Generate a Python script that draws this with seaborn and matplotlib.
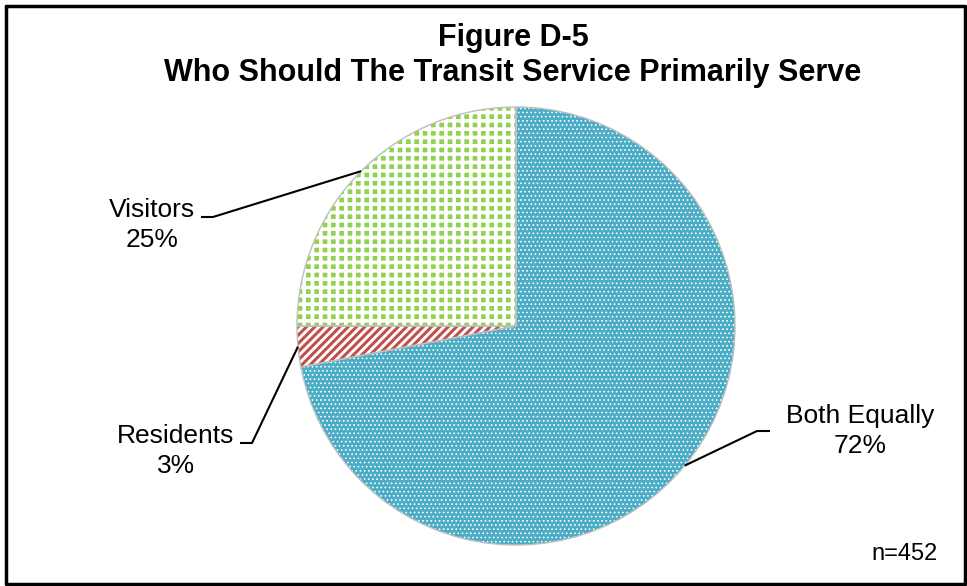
import numpy as np
import matplotlib
matplotlib.use("Agg")
import matplotlib.pyplot as plt
import seaborn as sns

# data
categories = ["Both Equally", "Residents", "Visitors"]
shares = [72, 3, 25]
colors = ["#4bacc6", "#c0504d", "#92d050"]
title_lines = ["Figure D-5", "Who Should The Transit Service Primarily Serve"]
note = "n=452"

sns.set_theme(style="white")
plt.rcParams["font.family"] = ["Liberation Sans", "DejaVu Sans"]
plt.rcParams["text.color"] = "black"

W, H = 967, 586
fig = plt.figure(figsize=(W / 100, H / 100), dpi=100)
ax = fig.add_axes([0, 0, 1, 1])

cx, cy, r = 516, H - 326, 219

# hatch styles per wedge: face, hatch colour, pattern, hatch width
faces = [colors[0], "white", colors[2]]
hatch_cols = ["white", colors[1], "white"]
hatches = ["....", "////", "++"]
hatch_lw = [0.7, 2.2, 2.6]

wedges, _ = ax.pie(shares, colors=faces, startangle=90, counterclock=False,
                   center=(cx, cy), radius=r, frame=True,
                   wedgeprops=dict(linewidth=0))
for w, hc, h, lw in zip(wedges, hatch_cols, hatches, hatch_lw):
    w.set_hatch(h)
    w.set_edgecolor(hc)
    if hasattr(w, "set_hatch_linewidth"):
        w.set_hatch_linewidth(lw)
# grey outline of the slices
ax.pie(shares, colors=["none"] * 3, startangle=90, counterclock=False,
       center=(cx, cy), radius=r, frame=True,
       wedgeprops=dict(linewidth=1.0, edgecolor="#bfbfbf", fill=False))
ax.set_xlim(0, W)
ax.set_ylim(0, H)
ax.set_aspect("equal")
ax.axis("off")

# labels (baseline of first line) and leader lines
label_pos = {"Both Equally": (860, H - 423),
             "Residents": (176, H - 443),
             "Visitors": (152, H - 217)}
leader = {"Both Equally": (770, 757, H - 431),
          "Residents": (240, 252, H - 443),
          "Visitors": (201, 213, H - 217)}
for w, cat, s in zip(wedges, categories, shares):
    mid = np.deg2rad((w.theta1 + w.theta2) / 2)
    px, py = cx + r * np.cos(mid), cy + r * np.sin(mid)
    tx, ty = label_pos[cat]
    ax.text(tx, ty, cat, ha="center", va="baseline", fontsize=19)
    ax.text(tx, ty - 30, f"{s}%", ha="center", va="baseline", fontsize=19)
    x0, x1, y0 = leader[cat]
    ax.plot([x0, x1, px], [y0, y0, py], color="black", lw=1.5,
            solid_capstyle="butt")

ax.text(513, H - 46, title_lines[0], ha="center", va="baseline", fontsize=22,
        fontweight="bold")
ax.text(513, H - 81, title_lines[1], ha="center", va="baseline", fontsize=22,
        fontweight="bold")
ax.text(938, H - 560, note, ha="right", va="baseline", fontsize=17)

# outer frame
ax.plot([6, W - 2, W - 2, 6, 6], [H - 6, H - 6, 2, 2, H - 6], color="black", lw=2.5)

fig.savefig("out.png", dpi=100)
